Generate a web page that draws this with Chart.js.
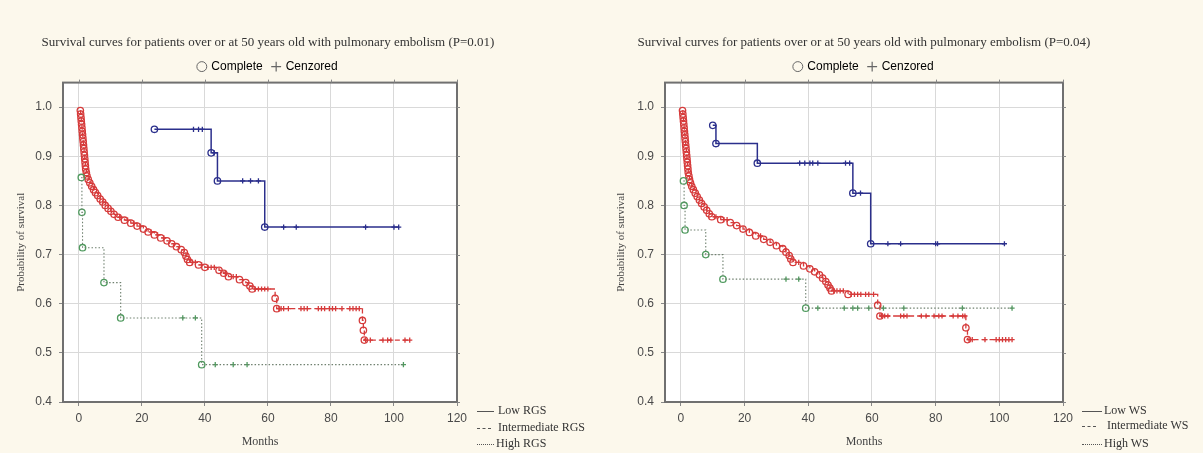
<!DOCTYPE html>
<html lang="en">
<head>
<meta charset="UTF-8">
<title>Survival curves</title>
<script src="https://cdn.jsdelivr.net/npm/chart.js"></script>
<style>
  body { margin: 0; background: #fcf8ec; }
  #wrap { position: relative; width: 1203px; height: 453px; overflow: hidden; }
  canvas { position: absolute; top: 0; }
  #chartRgs { left: 0; }
  #chartWs { left: 600px; }
  .key { position: absolute; top: 403px; font: 12px "Liberation Serif", serif; color: #333; }
  .key div { position: absolute; left: 0; white-space: nowrap; height: 14px; line-height: 14px; }
  .key .ln { display: inline-block; vertical-align: middle; border-top: 1px solid #555; margin-right: 4px; }
</style>
</head>
<body>
<div id="wrap">
  <canvas id="chartRgs" width="600" height="453"></canvas>
  <canvas id="chartWs" width="603" height="453"></canvas>
  <div class="key" style="left:477px">
    <div style="top:0"><span class="ln" style="width:17px"></span>Low RGS</div>
    <div style="top:17px"><span class="ln" style="width:14px;border-top-style:dashed;margin-right:7px"></span>Intermediate RGS</div>
    <div style="top:33px"><span class="ln" style="width:17px;border-top-style:dotted;margin-right:2px"></span>High RGS</div>
  </div>
  <div class="key" style="left:1082px">
    <div style="top:0"><span class="ln" style="width:20px;margin-right:2px"></span>Low WS</div>
    <div style="top:15px"><span class="ln" style="width:14px;border-top-style:dashed;margin-right:11px"></span>Intermediate WS</div>
    <div style="top:33px"><span class="ln" style="width:20px;border-top-style:dotted;margin-right:2px"></span>High WS</div>
  </div>
</div>
<script>
// axis ticks
const xTicks = [0, 20, 40, 60, 80, 100, 120];
const yTicks = [0.4, 0.5, 0.6, 0.7, 0.8, 0.9, 1.0];

// left plot: RGS groups. events = [month, survival], censored = months
const lowRgsEvents = [[24, 0.955], [42, 0.907], [44, 0.85], [59, 0.756]];
const lowRgsCensored = [36.4, 38, 39.2, 43, 52, 54.5, 57, 65, 69, 91, 100, 101.5];

const interRgsEvents = [
  [0.5, 0.993], [0.6, 0.986], [0.7, 0.979], [0.8, 0.972], [0.9, 0.965], [1.0, 0.958],
  [1.1, 0.951], [1.2, 0.944], [1.3, 0.937], [1.4, 0.93], [1.5, 0.923], [1.6, 0.916],
  [1.7, 0.909], [1.8, 0.902], [1.9, 0.895], [2.0, 0.888], [2.1, 0.881], [2.2, 0.874],
  [2.4, 0.867], [2.6, 0.86], [3.0, 0.853], [3.5, 0.846], [4.1, 0.839], [4.7, 0.832],
  [5.3, 0.826], [6.0, 0.82], [6.8, 0.813], [7.6, 0.807], [8.4, 0.8], [9.3, 0.794],
  [10.2, 0.788], [11.2, 0.782], [12.5, 0.776], [14.5, 0.77], [16.5, 0.764], [18.5, 0.758],
  [20.5, 0.752], [22, 0.746], [24, 0.74], [26, 0.734], [28, 0.728], [29.5, 0.722],
  [31, 0.716], [32.5, 0.71], [33.5, 0.704], [34, 0.697], [34.5, 0.69], [35.2, 0.684],
  [38, 0.679], [40, 0.674], [44.5, 0.668], [46, 0.662], [47.5, 0.655], [51, 0.649],
  [53, 0.643], [54.3, 0.636], [55, 0.63], [62.3, 0.611], [62.8, 0.59], [90, 0.566],
  [90.3, 0.546], [90.6, 0.526]
];
const interRgsCensored = [
  13, 15.5, 17.5, 19.5, 23, 25, 27, 36, 37, 39, 41, 42, 43, 46.5, 49, 50, 56, 57, 58, 59, 60,
  63.5, 64.2, 65, 66.5, 70.5, 71.5, 72.5, 76, 77, 78, 79.5, 80.5, 81.5, 83.5, 86, 87, 88, 89,
  91, 92.5, 96.5, 98, 99, 103.5, 105
];

const highRgsEvents = [[0.8, 0.857], [1.0, 0.786], [1.2, 0.714], [8, 0.643], [13.3, 0.571], [39, 0.476]];
const highRgsCensored = [33, 37, 43.3, 49, 53.4, 103];

// right plot: WS groups
const lowWsEvents = [[10, 0.963], [11, 0.926], [24, 0.886], [54, 0.825], [59.6, 0.722]];
const lowWsCensored = [37.3, 38.9, 40.5, 41.4, 43, 51.7, 53, 56.4, 65, 69, 80, 80.6, 101.6];

const interWsEvents = [
  [0.5, 0.993], [0.6, 0.986], [0.7, 0.979], [0.8, 0.972], [0.9, 0.965], [1.0, 0.958],
  [1.1, 0.951], [1.2, 0.944], [1.3, 0.937], [1.4, 0.93], [1.5, 0.923], [1.6, 0.916],
  [1.7, 0.909], [1.8, 0.902], [1.9, 0.895], [2.0, 0.888], [2.1, 0.881], [2.2, 0.874],
  [2.3, 0.867], [2.5, 0.86], [2.7, 0.853], [3.0, 0.846], [3.4, 0.839], [3.9, 0.832],
  [4.5, 0.825], [5.1, 0.818], [5.8, 0.811], [6.5, 0.804], [7.3, 0.797], [8.1, 0.79],
  [8.9, 0.783], [9.7, 0.777], [12.5, 0.771], [15.5, 0.765], [17.5, 0.759], [19.5, 0.752],
  [21.5, 0.745], [23.5, 0.738], [26, 0.731], [28, 0.725], [30, 0.718], [32, 0.712],
  [33, 0.705], [34, 0.698], [34.5, 0.691], [35.2, 0.684], [38.5, 0.677], [40.5, 0.671],
  [42, 0.665], [43.5, 0.659], [44.5, 0.652], [45.5, 0.645], [46.2, 0.638], [46.8, 0.632],
  [47.3, 0.626], [52.5, 0.619], [61.8, 0.597], [62.5, 0.575], [89.5, 0.551], [90, 0.527]
];
const interWsCensored = [
  11, 13.5, 14.5, 25, 37, 48, 49, 50, 51, 53.5, 54.5, 55.5, 56.5, 58, 59, 60.5,
  63, 64, 65, 69, 70, 71, 75.5, 77, 79.5, 81, 82, 85.5, 87, 88.5, 89.2,
  90.5, 91.5, 95.5, 99, 100, 101, 102, 103, 104
];

const highWsEvents = [[0.8, 0.85], [1.0, 0.8], [1.3, 0.75], [7.8, 0.7], [13.2, 0.65], [39.2, 0.591]];
const highWsCensored = [33, 37, 43, 51.3, 54, 55.5, 59, 63.6, 70, 88.4, 104];

const blue = '#2b2f8c';
const red = '#d63b3b';
const green = '#4f9a5e';
const greenLine = '#6f806f';

function survivalAt(events, t) {
  let s = events[0][1];
  events.forEach(e => { if (e[0] <= t) s = e[1]; });
  return s;
}

// one curve = stepped line + open circles (complete) + crosses (censored)
function curve(events, censored, lineColor, markColor, dash, lineWidth) {
  const done = events.map(e => ({ x: e[0], y: e[1] }));
  const cens = censored.map(t => ({ x: t, y: survivalAt(events, t) }));
  const path = done.concat(cens).sort((a, b) => a.x - b.x);
  return [
    { data: path, showLine: true, stepped: 'before', borderColor: lineColor, borderWidth: lineWidth,
      borderDash: dash, pointRadius: 0, fill: false },
    { data: done, pointStyle: 'circle', pointRadius: 3.2, borderColor: markColor,
      backgroundColor: 'rgba(255,255,255,0)', borderWidth: 1.3 },
    { data: cens, pointStyle: 'cross', pointRadius: 2.6, borderColor: markColor, borderWidth: 1.3 }
  ];
}

const frame = {
  id: 'frame',
  beforeDraw(chart) {
    const { ctx, chartArea: a } = chart;
    ctx.save();
    ctx.fillStyle = '#ffffff';
    ctx.fillRect(a.left, a.top, a.right - a.left, a.bottom - a.top);
    ctx.restore();
  },
  afterDraw(chart) {
    const { ctx, chartArea: a, scales } = chart;
    ctx.save();
    ctx.strokeStyle = '#707070';
    ctx.lineWidth = 2;
    ctx.strokeRect(a.left, a.top, a.right - a.left, a.bottom - a.top);
    ctx.lineWidth = 1;
    ctx.strokeStyle = '#888';
    ctx.beginPath();
    xTicks.forEach(v => {
      const px = Math.round(scales.x.getPixelForValue(v)) + 0.5;
      ctx.moveTo(px, a.top); ctx.lineTo(px, a.top - 3);
    });
    yTicks.forEach(v => {
      const py = Math.round(scales.y.getPixelForValue(v)) + 0.5;
      ctx.moveTo(a.right, py); ctx.lineTo(a.right + 3, py);
    });
    ctx.stroke();
    ctx.restore();
  }
};

function makeChart(id, title, groups, yWidth, padRight, spacer) {
  const datasets = [].concat(...groups);
  return new Chart(document.getElementById(id), {
    type: 'scatter',
    data: { datasets: datasets },
    plugins: [frame],
    options: {
      responsive: false,
      animation: false,
      layout: { padding: { top: 2, right: padRight, left: 0, bottom: 0 } },
      plugins: {
        title: {
          display: true, text: title, color: '#333',
          font: { family: 'Liberation Serif', size: 13, weight: 'normal' },
          padding: { top: 33, bottom: 0 }
        },
        legend: {
          display: true,
          onClick: null,
          labels: {
            usePointStyle: true, boxWidth: 7, boxHeight: 7, padding: 10, color: '#444',
            font: { family: 'Liberation Sans', size: 12 },
            generateLabels: () => [
              { text: 'Complete', pointStyle: 'circle', fillStyle: 'rgba(0,0,0,0)',
                strokeStyle: '#666', lineWidth: 1, hidden: false },
              { text: 'Cenzored', pointStyle: 'cross', fillStyle: '#666',
                strokeStyle: '#666', lineWidth: 1.2, hidden: false }
            ]
          }
        },
        tooltip: { enabled: false }
      },
      scales: {
        x: {
          type: 'linear', min: -5, max: 120,
          afterBuildTicks: s => { s.ticks = xTicks.map(v => ({ value: v })); },
          afterFit: s => { s.height = 51; },
          grid: { color: '#d9d9d9', tickLength: 4, tickColor: '#888' },
          border: { display: false },
          ticks: { color: '#4a4a4a', padding: 5, font: { family: 'Liberation Sans', size: 12 } },
          title: { display: true, text: 'Months', color: '#444',
                   font: { family: 'Liberation Serif', size: 12 }, padding: { top: 0, bottom: 4 } }
        },
        y: {
          type: 'linear', min: 0.4, max: 1.05,
          afterBuildTicks: s => { s.ticks = yTicks.map(v => ({ value: v })); },
          afterFit: s => { s.width = yWidth; },
          grid: { color: '#d9d9d9', tickLength: 4, tickColor: '#888' },
          border: { display: false },
          ticks: { color: '#4a4a4a', padding: 7, font: { family: 'Liberation Sans', size: 12 },
                   callback: v => v.toFixed(1) },
          title: { display: true, text: 'Probability of survival', color: '#444',
                   font: { family: 'Liberation Serif', size: 11 }, padding: { top: 15, bottom: 0 } }
        },
        pad: {
          type: 'linear', position: 'right', display: true,
          grid: { display: false }, border: { display: false }, ticks: { display: false },
          afterFit: s => { s.width = spacer; }
        }
      }
    }
  });
}

makeChart('chartRgs',
  'Survival curves for patients over or at 50 years old with pulmonary embolism (P=0.01)',
  [curve(highRgsEvents, highRgsCensored, greenLine, green, [1.5, 2], 1.1),
   curve(lowRgsEvents, lowRgsCensored, blue, blue, [], 1.5),
   curve(interRgsEvents, interRgsCensored, red, red, [5, 3], 1.3)],
  63, 64, 79);

makeChart('chartWs',
  'Survival curves for patients over or at 50 years old with pulmonary embolism (P=0.04)',
  [curve(highWsEvents, highWsCensored, greenLine, green, [1.5, 2], 1.1),
   curve(lowWsEvents, lowWsCensored, blue, blue, [], 1.5),
   curve(interWsEvents, interWsCensored, red, red, [5, 3], 1.3)],
  65, 75, 65);
</script>
</body>
</html>
